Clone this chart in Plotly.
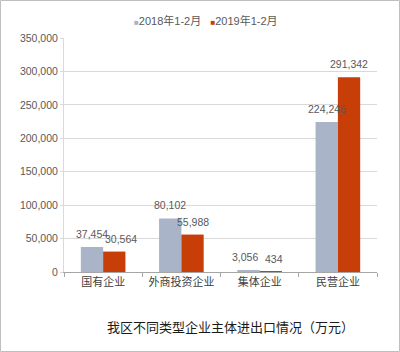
import plotly.graph_objects as go

categories = ["国有企业", "外商投资企业", "集体企业", "民营企业"]
series_names = ["2018年1-2月", "2019年1-2月"]
values_2018 = [37454, 80102, 3056, 224245]
values_2019 = [30564, 55988, 434, 291342]
colors = ["#AAB4C8", "#C73E08"]
title_text = "我区不同类型企业主体进出口情况（万元）"

FONT = "Liberation Sans, Arial, Noto Sans CJK SC, sans-serif"

W, H = 400, 352
L, R, T, B = 64, 23, 38, 80
BARGAP = 0.43
pw = W - L - R
ph = H - T - B
cat_px = pw / len(categories)
half_bar = (1 - BARGAP) * cat_px / 4  # half width of a single bar in px

fig = go.Figure()
series = [values_2018, values_2019]
for name, vals, col in zip(series_names, series, colors):
    fig.add_trace(go.Bar(
        x=categories, y=vals, name=name,
        marker=dict(color=col, line=dict(width=0)),
        showlegend=False, hoverinfo="x+y+name",
    ))

# data labels above each bar
label_nudge = {(1, 0): 7, (0, 2): -3, (1, 2): 3}  # (series, category) -> extra px to the right
for si, vals in enumerate(series):
    base_shift = -half_bar if si == 0 else half_bar
    for ci, (cat, v) in enumerate(zip(categories, vals)):
        fig.add_annotation(x=cat, y=v, text=f"{v:,}", showarrow=False,
                           xanchor="center", yanchor="bottom",
                           xshift=base_shift + label_nudge.get((si, ci), 0), yshift=5,
                           font=dict(size=10.5, color="#595959", family=FONT))

fig.update_layout(
    width=W, height=H,
    margin=dict(l=L, r=R, t=T, b=B),
    paper_bgcolor="white", plot_bgcolor="white",
    barmode="group", bargap=BARGAP, bargroupgap=0,
    font=dict(family=FONT, size=11, color="#595959"),
    showlegend=False,
    xaxis=dict(showline=True, linecolor="#A6A6A6", linewidth=1,
               ticks="outside", ticklen=4, tickcolor="#A6A6A6", tickson="boundaries",
               tickangle=0,
               tickfont=dict(size=11, color="#404040", family="Noto Sans CJK SC"),
               showgrid=False),
    yaxis=dict(range=[0, 350000], dtick=50000, tickformat=",",
               showgrid=True, gridcolor="#D9D9D9", gridwidth=1,
               showline=True, linecolor="#D9D9D9", linewidth=1,
               ticks="outside", ticklen=3, tickcolor="#D9D9D9",
               tickfont=dict(size=10.5, color="#595959", family=FONT),
               zeroline=False),
)

# legend drawn as a compact text row (square marker + label)
legend_parts = []
for name, col in zip(series_names, colors):
    legend_parts.append(
        f"<span style='color:{col};font-size:8px'>■</span>{name}")
fig.add_annotation(text="&nbsp;&nbsp;&nbsp;".join(legend_parts),
                   xref="paper", yref="paper", x=(206 - L) / pw, y=1.0 + 18 / ph,
                   xanchor="center", yanchor="middle", showarrow=False,
                   font=dict(size=11, color="#595959", family=FONT))

fig.add_annotation(text=title_text, xref="paper", yref="paper",
                   x=(230 - L) / pw, y=-(326 - (H - B)) / ph, xanchor="center", yanchor="middle",
                   showarrow=False,
                   font=dict(size=13, color="#1a1a1a", family="Noto Sans CJK SC"))

fig.add_shape(type="rect", xref="paper", yref="paper",
              x0=-(L - 0.5) / pw, x1=1 + (R - 0.5) / pw,
              y0=-(B - 0.5) / ph, y1=1 + (T - 0.5) / ph,
              line=dict(color="#BFBFBF", width=1), layer="below")

fig.write_html("out.html")
